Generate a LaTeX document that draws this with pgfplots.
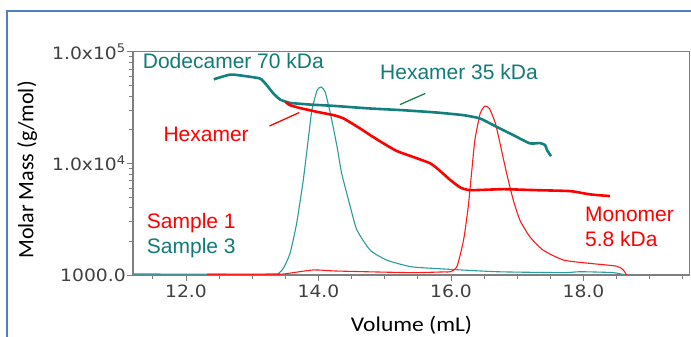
\documentclass[border=0pt]{standalone}
\usepackage{fontspec}
\setmainfont{Liberation Sans}
\newfontfamily\tickfont{DejaVu Sans}
\newfontfamily\labfont{Carlito}
\usepackage{pgfplots}
\pgfplotsset{compat=1.18}
\definecolor{tealM}{HTML}{12807F}
\definecolor{tealC}{HTML}{2A9C9C}
\definecolor{tealT}{HTML}{137A7A}
\definecolor{redM}{HTML}{FF0000}
\definecolor{redC}{HTML}{FF1A1A}
\definecolor{frameblue}{HTML}{4F81BD}
\definecolor{annGreen}{HTML}{1F8050}
\definecolor{axgray}{HTML}{7F7F7F}
\begin{document}
\begin{tikzpicture}
\path[use as bounding box] (0pt,0pt) rectangle (691pt,337pt);
\fill[white] (0pt,0pt) rectangle (691pt,337pt);
\draw[frameblue, line width=2.2pt] (6.7pt,0pt) -- (6.7pt,326pt) -- (691pt,326pt);
\begin{axis}[
  at={(133pt,62pt)}, anchor=south west,
  scale only axis, width=556.5pt, height=223.3pt,
  xmin=11.2, xmax=19.6,
  ymode=log, ymin=1000, ymax=100000,
  xtick={12,14,16,18},
  xticklabels={12.0,14.0,16.0,18.0},
  minor xtick={11.5,12.5,13,13.5,14.5,15,15.5,16.5,17,17.5,18.5,19,19.5},
  ytick={1000,10000,100000},
  yticklabels={1000.0,{1.0x10\textsuperscript{4}},{1.0x10\textsuperscript{5}}},
  xtick pos=bottom, ytick pos=left,
  tick align=outside,
  major tick length=6pt, minor tick length=4pt,
  every tick/.style={axgray, line width=0.9pt},
  axis line style={axgray, line width=1.3pt},
  tick label style={font=\tickfont\fontsize{17}{17}\selectfont, xscale=1.1, text=black!75},
  yticklabel style={inner sep=1pt},
  xticklabel style={inner sep=1pt, yshift=-3pt},
]
% thin concentration traces
\addplot[tealC, line width=1.1pt, smooth, tension=0.35] coordinates {
(11.21,1020) (13.27,1020) (13.40,1040) (13.47,1150) (13.57,1560) (13.67,2900)
(13.77,7080) (13.85,17300) (13.90,29900) (13.98,45200) (14.04,48300) (14.10,43600)
(14.18,27900) (14.28,14100) (14.35,8130) (14.48,4080) (14.58,2530) (14.78,1670)
(15.03,1360) (15.38,1190) (15.69,1150) (16.69,1070) (17.70,1050) (17.95,1070)
(18.45,1050) (18.63,1000)};
\addplot[redC, line width=1.1pt, smooth, tension=0.35] coordinates {
(12.32,1015) (13.38,1015) (13.57,1040) (13.93,1110) (14.28,1085) (15.38,1050)
(15.88,1065) (15.99,1070) (16.09,1190) (16.19,2060) (16.26,4080) (16.31,8130)
(16.36,16100) (16.44,27900) (16.51,32500) (16.58,31000) (16.67,22800) (16.74,15100)
(16.84,8130) (16.94,4690) (17.04,3100) (17.19,2200) (17.39,1670) (17.70,1360)
(18.10,1270) (18.50,1200) (18.60,1110) (18.65,1000)};
% thick molar mass traces
\addplot[tealM, line width=2.6pt, smooth, tension=0.3] coordinates {
(12.42,56600) (12.67,62400) (12.87,60700) (13.12,57400) (13.22,50000) (13.32,42200)
(13.42,37300) (13.57,34800) (13.88,33600) (14.23,32700) (14.78,31000) (15.28,29900)
(15.79,28500) (16.19,27000) (16.44,25200) (16.69,21200) (16.94,17900) (17.19,15100)
(17.34,15200) (17.42,14600) (17.45,13100) (17.51,11600)};
\addplot[redM, line width=2.6pt, smooth, tension=0.3] coordinates {
(13.50,35500) (13.57,33200) (13.72,31300) (13.98,28900) (14.23,27000) (14.38,25200)
(14.63,20500) (14.78,17900) (14.98,15100) (15.18,12900) (15.43,11400) (15.69,9980)
(15.84,8510) (15.99,7080) (16.14,6080) (16.29,5750) (16.79,5870) (17.29,5750)
(17.80,5640) (18.10,5270) (18.40,5090)};
% annotation pointer lines
\addplot[redM, line width=1.3pt] coordinates {(13.26,21600) (13.71,28500)};
\addplot[annGreen, line width=1.3pt] coordinates {(15.23,33600) (15.61,42200)};
\end{axis}
\begin{scope}[every node/.style={inner sep=0pt, anchor=base west, font=\fontsize{21}{21}\selectfont}]
\node[text=tealT] at (142.7pt,268pt) {Dodecamer 70 kDa};
\node[text=tealT] at (380pt,257.7pt) {Hexamer 35 kDa};
\node[text=redM] at (163.3pt,195.3pt) {Hexamer};
\node[text=redM] at (146.7pt,108pt) {Sample 1};
\node[text=tealT] at (146.7pt,83pt) {Sample 3};
\node[text=redM] at (585pt,115.3pt) {Monomer};
\node[text=redM] at (585pt,90.3pt) {5.8 kDa};
\end{scope}
\node[inner sep=0pt, anchor=base, xscale=1.12, font=\labfont\fontsize{21}{21}\selectfont] at (411.5pt,5pt) {Volume (mL)};
\node[inner sep=0pt, anchor=base, rotate=90, font=\labfont\fontsize{22}{22}\selectfont] at (33.3pt,167pt) {Molar Mass (g/mol)};
\end{tikzpicture}
\end{document}
